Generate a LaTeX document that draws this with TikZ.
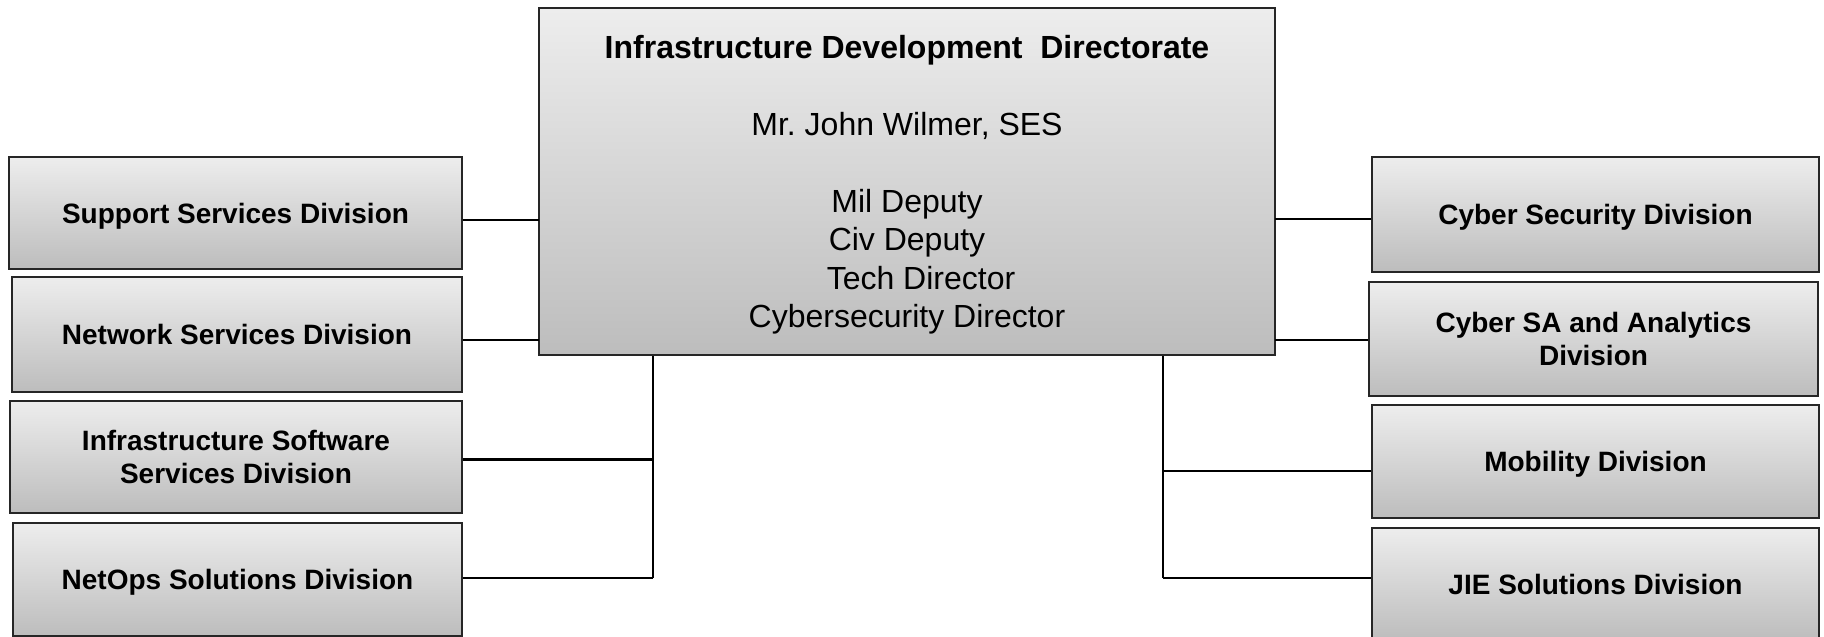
\documentclass[tikz,border=0pt]{standalone}
\usepackage{fontspec}
\setmainfont{Liberation Sans}
\usetikzlibrary{positioning}

\tikzset{
  divbox/.style={draw=black!85, line width=1.8pt, top color=gray!14, bottom color=gray!52,
    align=center, inner sep=0pt, text depth=0pt, font=\bfseries\fontsize{28}{33.6}\selectfont},
  link/.style={draw=black, line width=2.2pt}
}

\begin{document}
\begin{tikzpicture}[x=1pt, y=1pt]
  \useasboundingbox (0,0) rectangle (1824,637);

  % directorate
  \node [divbox, text depth=-3pt, font=\fontsize{32}{38.4}\selectfont, minimum width=736, minimum height=347] at (907,455.5) (main)
    {\textbf{Infrastructure Development\ \ Directorate}\\[38.4pt]
     Mr.\ John Wilmer, SES\\[38.4pt]
     Mil Deputy\\ Civ Deputy\\ \hspace*{28pt}Tech Director\\ Cybersecurity Director};

  % left divisions
  \node [divbox, minimum width=453, minimum height=112] at (235.5,424) (support) {Support Services Division};
  \node [divbox, minimum width=450, minimum height=115] at (237,302.5) (network) {Network Services Division};
  \node [divbox, minimum width=452, minimum height=112] at (236,180) (infsw) {Infrastructure Software\\Services Division};
  \node [divbox, minimum width=449, minimum height=113] at (237.5,57.5) (netops) {NetOps Solutions Division};

  % right divisions
  \node [divbox, minimum width=447, minimum height=115] at (1595.5,422.5) (cybersec) {Cyber Security Division};
  \node [divbox, minimum width=449, minimum height=114] at (1593.5,298) (cybersa) {Cyber SA and Analytics\\Division};
  \node [divbox, minimum width=447, minimum height=113] at (1595.5,175.5) (mobility) {Mobility Division};
  \node [divbox, minimum width=447, minimum height=112] at (1595.5,53) (jie) {JIE Solutions Division};

  % junctions
  \coordinate (jSupport) at (539,417);
  \coordinate (jNetwork) at (539,297);
  \coordinate (jInfsw) at (653,177.5);
  \coordinate (jNetops) at (653,59);
  \coordinate (jCybersec) at (1275,418);
  \coordinate (jCybersa) at (1275,297);
  \coordinate (jMobility) at (1163,166);
  \coordinate (jJie) at (1163,59);

  % connectors
  \draw [link] (jSupport) -- (jSupport -| support.east);
  \draw [link] (jNetwork) -- (jNetwork -| network.east);
  \draw [link] (jNetops |- main.south) -- (jNetops);
  \draw [link] (jInfsw) -- (jInfsw -| infsw.east);
  \draw [link] (jNetops) -- (jNetops -| netops.east);

  \draw [link] (jCybersec) -- (jCybersec -| cybersec.west);
  \draw [link] (jCybersa) -- (jCybersa -| cybersa.west);
  \draw [link] (jJie |- main.south) -- (jJie);
  \draw [link] (jMobility) -- (jMobility -| mobility.west);
  \draw [link] (jJie) -- (jJie -| jie.west);

\end{tikzpicture}
\end{document}
